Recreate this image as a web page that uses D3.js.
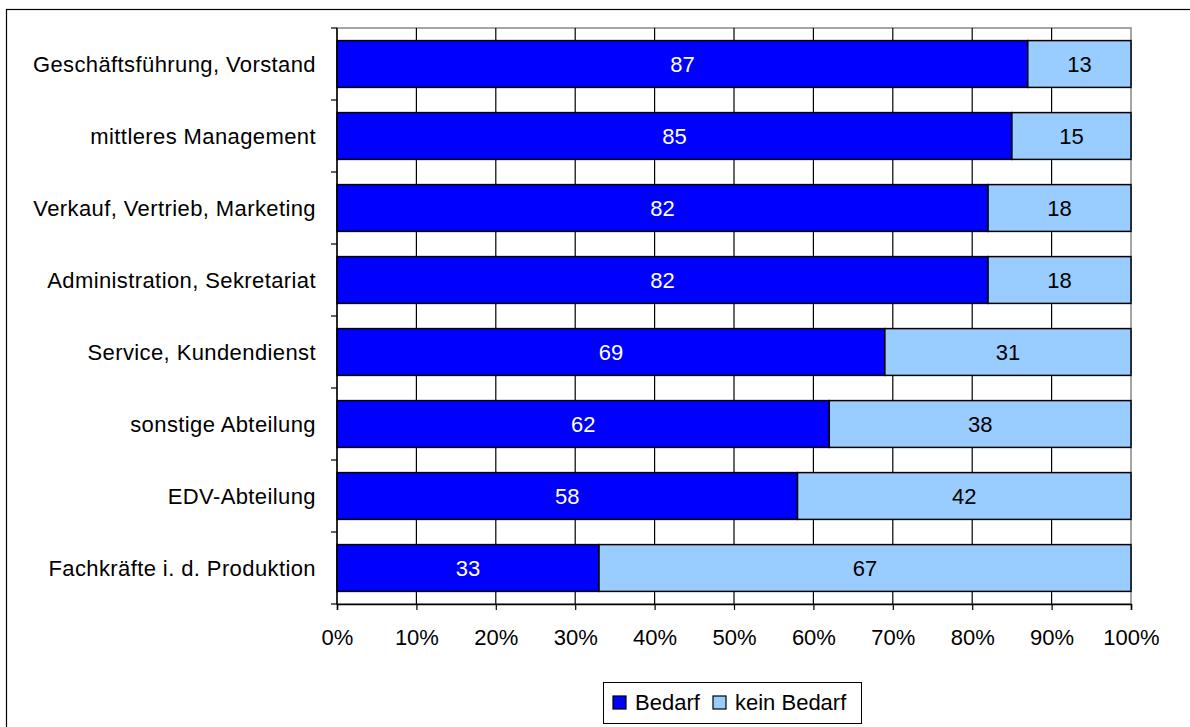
<!DOCTYPE html>
<html><head><meta charset="utf-8">
<script src="https://cdn.jsdelivr.net/npm/d3@7"></script>
<style>body{margin:0;background:#fff}svg{display:block}text{font-family:"Liberation Sans",Arial,sans-serif}</style>
</head><body><svg id="c" width="1190" height="727"></svg>
<script>
const categories = ["Geschäftsführung, Vorstand","mittleres Management","Verkauf, Vertrieb, Marketing","Administration, Sekretariat","Service, Kundendienst","sonstige Abteilung","EDV-Abteilung","Fachkräfte i. d. Produktion"];
const bedarf = [87,85,82,82,69,62,58,33];
const keinBedarf = [13,15,18,18,31,38,42,67];
const seriesNames = ["Bedarf","kein Bedarf"];
const colors = ["#0000FF","#99CCFF"];
const xTicks = [0,10,20,30,40,50,60,70,80,90,100];

const FS = 22;
const svg = d3.select("#c");
svg.append("rect").attr("x",6.5).attr("y",9.5).attr("width",1200).attr("height",800).attr("fill","none").attr("stroke","#000").attr("stroke-width",1.2);

const L=337, R=1131, T=28, B=604;
const x = d3.scaleLinear().domain([0,100]).range([L,R]);
const y = d3.scaleBand().domain(categories).range([T,B]).paddingInner(0.35).paddingOuter(0.175);
const yb = d3.scaleBand().domain(categories).range([T,B]);

// plot area border
svg.append("rect").attr("x",L).attr("y",T).attr("width",R-L).attr("height",B-T).attr("fill","none").attr("stroke","#888").attr("stroke-width",1.5);
// gridlines
svg.append("g").selectAll("line").data(xTicks.slice(1,-1)).join("line")
  .attr("x1",d=>x(d)).attr("x2",d=>x(d)).attr("y1",T).attr("y2",B).attr("stroke","#000").attr("stroke-width",1.2);

const data = categories.map((c,i)=>({c, v:[bedarf[i],keinBedarf[i]]}));
const g = svg.append("g");
data.forEach(d=>{
  let x0=0;
  d.v.forEach((v,j)=>{
    g.append("rect").attr("x",x(x0)).attr("y",y(d.c)).attr("width",x(x0+v)-x(x0)).attr("height",y.bandwidth())
      .attr("fill",colors[j]).attr("stroke","#000").attr("stroke-width",1.5);
    g.append("text").attr("x",(x(x0)+x(x0+v))/2).attr("y",y(d.c)+y.bandwidth()/2).attr("dy","0.35em")
      .attr("text-anchor","middle").attr("font-size",FS).attr("fill",j===0?"#fff":"#000").text(v);
    x0+=v;
  });
});

// y axis
svg.append("line").attr("x1",L).attr("x2",L).attr("y1",T).attr("y2",B).attr("stroke","#000").attr("stroke-width",1.5);
const yTickPos = categories.map(c=>yb(c)).concat([B]);
svg.append("g").selectAll("line").data(yTickPos).join("line")
  .attr("x1",L-6).attr("x2",L).attr("y1",d=>d).attr("y2",d=>d).attr("stroke","#000").attr("stroke-width",1.2);
svg.append("g").selectAll("text").data(categories).join("text")
  .attr("x",316).attr("y",d=>yb(d)+yb.bandwidth()/2).attr("dy","0.35em").attr("text-anchor","end")
  .attr("font-size",FS).attr("letter-spacing",0.4).attr("fill","#000").text(d=>d);

// x axis
const xa = svg.append("g").attr("transform",`translate(0,${B})`)
  .call(d3.axisBottom(x).tickValues(xTicks).tickFormat(d=>d+"%").tickSize(6));
xa.select(".domain").attr("stroke","#000").attr("stroke-width",1.5);
xa.selectAll(".tick line").attr("stroke","#000").attr("stroke-width",1.2);
xa.selectAll("text").attr("y",33).attr("dy","0.35em").attr("font-size",FS).attr("fill","#000").attr("font-family","Liberation Sans, Arial, sans-serif");

// legend
const lg = svg.append("g");
lg.append("rect").attr("x",603.5).attr("y",682.5).attr("width",258).attr("height",41).attr("fill","#fff").attr("stroke","#000").attr("stroke-width",1);
const items = [{x:613},{x:713}];
seriesNames.forEach((n,i)=>{
  lg.append("rect").attr("x",items[i].x).attr("y",696).attr("width",13).attr("height",13).attr("fill",colors[i]).attr("stroke","#000").attr("stroke-width",1.2);
  lg.append("text").attr("x",items[i].x+22).attr("y",702).attr("dy","0.35em").attr("font-size",FS).attr("fill","#000").text(n);
});
</script></body></html>
